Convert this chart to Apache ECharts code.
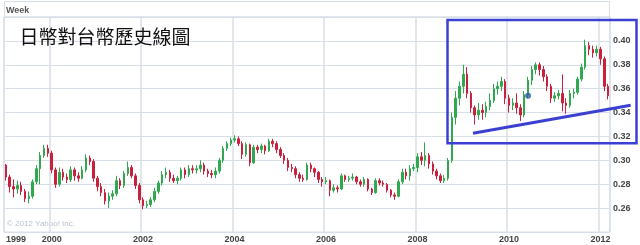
<!DOCTYPE html>
<html><head><meta charset="utf-8">
<script src="https://cdn.jsdelivr.net/npm/echarts@6/dist/echarts.min.js"></script>
<style>html,body{margin:0;padding:0;background:#fff}#c{width:640px;height:245px}</style>
</head><body><div id="c"></div><script>
// Monthly JPY/TWD, Jan 1999 .. Mar 2012
const firstYear = 1999, lastYear = 2012, lastMonth = 3;
const yearLabels = ['1999','2000','2002','2004','2006','2008','2010','2012'];
const yTicks = [0.26,0.28,0.30,0.32,0.34,0.36,0.38,0.40];

const opens = [
.296,.286,.278,.276,.279,.274,.268,.270,.282,.293,.304,.310,
.306,.292,.280,.290,.286,.284,.292,.287,.285,.292,.302,.299,
.285,.278,.273,.266,.270,.272,.283,.279,.289,.294,.287,.279,
.267,.262,.263,.267,.274,.281,.288,.290,.285,.283,.285,.292,
.288,.293,.292,.293,.296,.291,.289,.288,.291,.300,.310,.314,
.317,.318,.314,.305,.313,.298,.311,.309,.312,.308,.316,.314,
.309,.304,.300,.294,.293,.288,.285,.284,.296,.293,.290,.284,
.282,.283,.275,.277,.276,.287,.284,.285,.286,.282,.280,.284,
.276,.273,.283,.281,.280,.275,.271,.270,.282,.290,.287,.293,
.294,.303,.300,.304,.297,.291,.287,.283,.285,.300,.336,.352,
.362,.372,.356,.344,.338,.342,.340,.345,.350,.360,.362,.366,
.352,.346,.348,.344,.338,.355,.367,.376,.380,.376,.370,.362,
.352,.354,.356,.348,.346,.356,.357,.368,.378,.396,.393,.390,
.393,.385,.362];
const closes = [
.286,.278,.276,.279,.274,.268,.270,.282,.293,.304,.310,.306,
.292,.280,.290,.286,.284,.292,.287,.285,.292,.302,.299,.285,
.278,.273,.266,.270,.272,.283,.279,.289,.294,.287,.279,.267,
.262,.263,.267,.274,.281,.288,.290,.285,.283,.285,.292,.288,
.293,.292,.293,.296,.291,.289,.288,.291,.300,.310,.314,.317,
.318,.314,.305,.313,.298,.311,.309,.312,.308,.316,.314,.309,
.304,.300,.294,.293,.288,.285,.284,.296,.293,.290,.284,.282,
.283,.275,.277,.276,.287,.284,.285,.286,.282,.280,.284,.276,
.273,.283,.281,.280,.275,.271,.270,.282,.290,.287,.293,.294,
.303,.300,.304,.297,.291,.287,.283,.285,.300,.336,.352,.362,
.372,.356,.344,.338,.342,.340,.345,.350,.360,.362,.366,.352,
.346,.348,.344,.338,.355,.367,.376,.380,.376,.370,.362,.352,
.354,.356,.348,.346,.356,.357,.368,.378,.396,.393,.390,.393,
.385,.362,.354];
const lows = [
.283,.273,.269,.272,.271,.265,.264,.268,.280,.280,.302,.303,
.289,.277,.278,.283,.281,.282,.283,.282,.284,.290,.296,.282,
.274,.270,.263,.260,.267,.270,.276,.277,.287,.285,.276,.264,
.259,.260,.261,.265,.272,.279,.285,.282,.281,.280,.283,.285,
.286,.289,.289,.290,.288,.286,.285,.285,.289,.298,.308,.312,
.315,.312,.301,.303,.295,.297,.306,.306,.305,.307,.311,.306,
.302,.297,.291,.290,.285,.282,.282,.283,.290,.286,.281,.278,
.280,.270,.273,.273,.275,.282,.282,.283,.280,.278,.278,.274,
.271,.272,.279,.278,.273,.269,.267,.269,.280,.284,.283,.291,
.290,.296,.295,.293,.288,.284,.281,.281,.283,.298,.330,.346,
.356,.352,.340,.330,.334,.334,.336,.342,.348,.355,.358,.347,
.340,.342,.339,.333,.336,.352,.363,.372,.371,.366,.358,.348,
.349,.351,.341,.339,.344,.352,.355,.366,.376,.388,.386,.387,
.380,.358,.351];
const highs = [
.297,.288,.284,.283,.282,.276,.274,.284,.296,.307,.313,.313,
.308,.294,.294,.293,.289,.295,.294,.290,.295,.305,.304,.301,
.287,.281,.276,.273,.275,.287,.285,.291,.299,.296,.289,.281,
.269,.266,.269,.277,.283,.291,.294,.292,.288,.287,.294,.294,
.296,.296,.296,.300,.298,.293,.292,.294,.302,.312,.316,.319,
.321,.320,.316,.315,.314,.313,.313,.314,.313,.318,.318,.316,
.311,.306,.302,.297,.295,.290,.288,.298,.298,.294,.291,.286,
.286,.284,.280,.279,.289,.288,.287,.289,.287,.284,.286,.285,
.277,.285,.285,.283,.281,.276,.273,.284,.293,.293,.296,.297,
.306,.307,.315,.306,.299,.293,.289,.288,.302,.340,.358,.366,
.380,.378,.358,.346,.348,.347,.349,.356,.364,.366,.370,.368,
.355,.352,.356,.347,.358,.370,.379,.382,.382,.379,.372,.364,
.357,.359,.372,.352,.359,.360,.370,.381,.401,.399,.396,.396,
.395,.387,.364];
const markerDot = [['2010-06', 0.354]];

const months = [];
for (let y = firstYear; y <= lastYear; y++) {
  for (let m = 1; m <= 12; m++) {
    if (y === lastYear && m > lastMonth) break;
    months.push(y + '-' + String(m).padStart(2, '0'));
  }
}
const candles = months.map((_, i) => [opens[i], closes[i], lows[i], highs[i]]);
const isYearTick = (idx, val) => {
  const yr = String(val).slice(0, 4);
  return String(val).slice(5) === '01' && yearLabels.includes(yr);
};

const gridColor = '#d8dfe7';
const chart = echarts.init(document.getElementById('c'), null, {renderer: 'canvas'});
chart.setOption({
  animation: false,
  backgroundColor: '#fff',
  title: {
    text: '日幣對台幣歷史線圖', left: 19.5, top: 27, padding: 0,
    textStyle: {fontFamily: 'Noto Sans CJK TC', fontSize: 19, fontWeight: 'normal', color: '#111'}
  },
  grid: {left: 4, right: 30, top: 17, bottom: 13, containLabel: false, outerBoundsMode: 'none',
         show: true, borderColor: gridColor, borderWidth: 1},
  xAxis: {
    type: 'category', data: months, boundaryGap: true,
    axisLine: {show: false}, axisTick: {show: false},
    axisLabel: {
      interval: (idx, val) => idx === 0 || isYearTick(idx, val),
      formatter: (val) => String(val).slice(0, 4),
      alignMinLabel: 'left',
      margin: 3, fontFamily: 'Liberation Sans', fontSize: 9, fontWeight: 'bold', color: '#444'
    },
    splitLine: {show: true, interval: isYearTick, lineStyle: {color: gridColor, width: 1.5}}
  },
  yAxis: {
    type: 'value', position: 'right', min: 0.24, max: 0.42, interval: 0.02, scale: true,
    axisLine: {show: false}, axisTick: {show: false},
    axisLabel: {
      showMinLabel: false, showMaxLabel: false, margin: 3,
      formatter: (v) => yTicks.some(t => Math.abs(t - v) < 1e-6) ? v.toFixed(2) : '',
      fontFamily: 'Liberation Sans', fontSize: 9, fontWeight: 'bold', color: '#444'
    },
    splitLine: {show: true, lineStyle: {color: gridColor, width: 1}}
  },
  series: [
    {
      type: 'candlestick', data: candles, barWidth: 2,
      itemStyle: {color: '#2fa84f', color0: '#c8213d', borderColor: '#2fa84f', borderColor0: '#c8213d', borderWidth: 1}
    },
    {
      type: 'scatter', data: markerDot, symbolSize: 6, itemStyle: {color: '#2b5ba6'}, z: 5
    }
  ],
  graphic: [
    {type: 'rect', shape: {x: 4.5, y: 1.5, width: 605, height: 15.5}, style: {fill: null, stroke: gridColor, lineWidth: 1}, z: 1, silent: true},
    {type: 'text', left: 6, top: 6, style: {text: 'Week', fontFamily: 'Liberation Sans', fontSize: 9, fontWeight: 'bold', fill: '#555'}},
    {type: 'text', left: 7, top: 220, style: {text: '© 2012 Yahoo! Inc.', fontFamily: 'Liberation Sans', fontSize: 8, fill: '#b7bfc9'}},
    {type: 'rect', shape: {x: 447.5, y: 20, width: 189, height: 123.3}, style: {fill: null, stroke: '#3c40d2', lineWidth: 2.5}, z: 100},
    {type: 'line', shape: {x1: 473, y1: 133.3, x2: 630.7, y2: 105.3}, style: {stroke: '#3c40d2', lineWidth: 3}, z: 100}
  ]
});
</script></body></html>
